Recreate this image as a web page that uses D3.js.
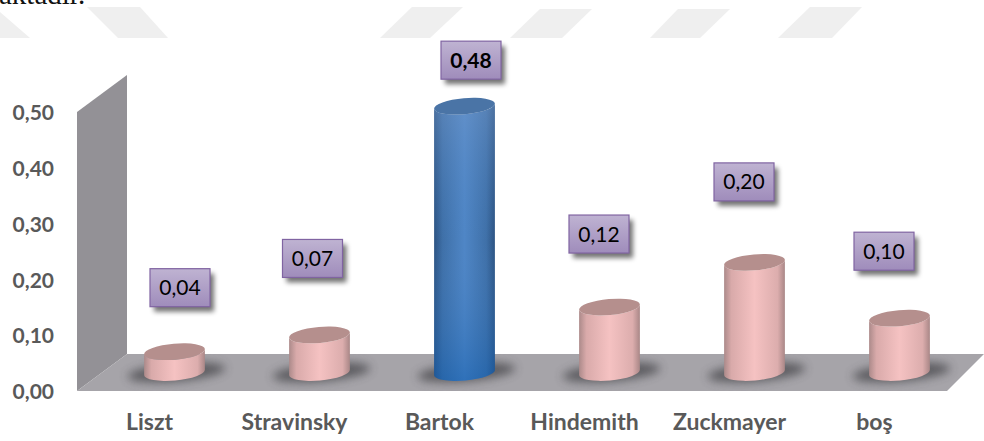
<!DOCTYPE html>
<html>
<head>
<meta charset="utf-8">
<script src="https://cdn.jsdelivr.net/npm/d3@7"></script>
<style>
  html, body { margin: 0; padding: 0; background: #fff; }
  svg { display: block; }
  text { font-family: Lato, sans-serif; }
</style>
</head>
<body>
<svg id="chart"></svg>
<script>
const categories = ['Liszt', 'Stravinsky', 'Bartok', 'Hindemith', 'Zuckmayer', 'boş']
const values = [0.04, 0.07, 0.48, 0.12, 0.20, 0.10]
const valueLabels = ['0,04', '0,07', '0,48', '0,12', '0,20', '0,10']
const yTicks = [0, 0.1, 0.2, 0.3, 0.4, 0.5]
const highlighted = 'Bartok'

// the labels were dragged by hand in the original, so each has its own offset from the bar top
const labelDx = [5.5, -7, 6.5, -10.5, -10.5, -15.5]
const labelDy = [-64, -76.5, -46, -73, -80.5, -67]

// faint watermark stripes behind the chart, top of the page
const stripes = [
    [[0, 12], [30, 38], [0, 38]],
    [[87, 7], [140, 7], [168, 38], [118, 38]],
    [[380, 38], [412, 7], [463, 7], [430, 38]],
    [[510, 38], [540, 9], [592, 9], [562, 38]],
    [[650, 38], [678, 9], [730, 9], [700, 38]],
    [[778, 38], [810, 7], [862, 7], [832, 38]]
]

const svgWidth = 984
const svgHeight = 441

// chart box: front plane and the depth of the 3d floor
const frontLeft = 77
const frontRight = 947
const frontBottom = 391
const frontTop = 112
const depthX = 50
const depthY = 37

const cylWidth = 61
const cylRy = 8
const tilt = -5
const boxWidth = 60
const boxHeight = 38

const svg = d3.select('#chart')
    .attr('width', svgWidth)
    .attr('height', svgHeight)

const x = d3.scaleBand().domain(categories).range([frontLeft, frontRight])
const y = d3.scaleLinear().domain([0, 0.5]).range([frontBottom, frontTop])

const defs = svg.append('defs')

function hGradient(id, stops, vertical) {
    const g = defs.append('linearGradient').attr('id', id)
        .attr('x1', 0).attr('y1', 0)
        .attr('x2', vertical ? 0 : 1).attr('y2', vertical ? 1 : 0)
    stops.forEach(s => {
        g.append('stop').attr('offset', s[0]).attr('stop-color', s[1]).attr('stop-opacity', s[2] === undefined ? 1 : s[2])
    })
}

hGradient('pinkSide', [[0, '#ac8a8a'], [0.12, '#d9aaaa'], [0.5, '#f5c2c2'], [0.88, '#dcadad'], [1, '#a98787']])
hGradient('blueSide', [[0, '#2c5382'], [0.14, '#3f70a8'], [0.5, '#4f86c6'], [0.86, '#3f70a8'], [1, '#2c5382']])
hGradient('blueShade', [[0, '#7fa0cf', 0.4], [0.5, '#4f86c6', 0], [1, '#0f5cad', 0.5]], true)
hGradient('boxFill', [[0, '#bfb3d2'], [1, '#9f8cbb']], true)

defs.append('filter').attr('id', 'blurBox').attr('x', '-30%').attr('y', '-30%').attr('width', '160%').attr('height', '160%')
    .append('feGaussianBlur').attr('stdDeviation', 2.5)
defs.append('filter').attr('id', 'blurFloor').attr('x', '-30%').attr('y', '-60%').attr('width', '160%').attr('height', '220%')
    .append('feGaussianBlur').attr('stdDeviation', 5)
defs.append('clipPath').attr('id', 'floorClip')
    .append('path').attr('d', floorPath())

function floorPath() {
    return `M${frontLeft},${y(0)} L${frontLeft + depthX},${y(0) - depthY} L${frontRight + depthX - 13},${y(0) - depthY} L${frontRight},${y(0)} Z`
}

// watermark and the cut off line of text above the chart
svg.append('g').selectAll('path')
    .data(stripes)
    .join('path')
    .attr('d', d => 'M' + d.join('L') + 'Z')
    .attr('fill', '#efefef')

svg.append('text')
    .attr('x', -1)
    .attr('y', 4)
    .attr('font-size', 29)
    .attr('fill', '#111')
    .style('font-family', '"Liberation Serif", serif')
    .text('aktadır.')

// wall and floor
svg.append('path')
    .attr('d', `M${frontLeft},${y(0)} L${frontLeft},${y(0.5)} L${frontLeft + depthX},${y(0.5) - depthY} L${frontLeft + depthX},${y(0) - depthY} Z`)
    .attr('fill', '#939196')

svg.append('path')
    .attr('d', floorPath())
    .attr('fill', '#a6a4a9')

// axes
const yAxis = d3.axisLeft(y)
    .tickValues(yTicks)
    .tickSize(0)
    .tickPadding(23)
    .tickFormat(d => d3.format('.2f')(d).replace('.', ','))

const xAxis = d3.axisBottom(x)
    .tickSize(0)
    .tickPadding(23)

svg.append('g')
    .attr('transform', `translate(${frontLeft},1)`)
    .call(yAxis)
    .call(g => g.select('.domain').remove())
    .call(g => g.selectAll('text')
        .style('font-family', 'Lato, sans-serif')
        .attr('font-size', 21)
        .attr('font-weight', 700)
        .attr('fill', '#595959'))

svg.append('g')
    .attr('transform', `translate(0,${frontBottom})`)
    .call(xAxis)
    .call(g => g.select('.domain').remove())
    .call(g => g.selectAll('text')
        .style('font-family', 'Lato, sans-serif')
        .attr('font-size', 23)
        .attr('font-weight', 700)
        .attr('fill', '#595959'))

// cylinders stand in the middle of the floor depth
const rows = categories.map((name, i) => ({
    name,
    value: values[i],
    label: valueLabels[i],
    cx: x(name) + x.bandwidth() / 2 + depthX / 2,
    top: y(values[i]) - depthY / 2 + 1.5,
    base: y(0) - depthY / 2,
    dx: labelDx[i],
    dy: labelDy[i]
}))

function sidePath(d) {
    const rx = cylWidth / 2
    const ex = rx * Math.cos(tilt * Math.PI / 180)
    const ey = rx * Math.sin(tilt * Math.PI / 180)
    return `M${d.cx - ex},${d.top - ey} L${d.cx - ex},${d.base - ey}`
        + ` A${rx},${cylRy} ${tilt} 0 0 ${d.cx + ex},${d.base + ey}`
        + ` L${d.cx + ex},${d.top + ey}`
        + ` A${rx},${cylRy} ${tilt} 0 1 ${d.cx - ex},${d.top - ey} Z`
}

svg.append('g')
    .attr('clip-path', 'url(#floorClip)')
    .selectAll('ellipse')
    .data(rows)
    .join('ellipse')
    .attr('cx', d => d.cx + 2)
    .attr('cy', d => d.base)
    .attr('rx', cylWidth * 0.8)
    .attr('ry', 9)
    .attr('transform', d => `rotate(${tilt} ${d.cx} ${d.base})`)
    .attr('fill', '#4a484e')
    .attr('opacity', 0.8)
    .attr('filter', 'url(#blurFloor)')

const cyl = svg.append('g').selectAll('g')
    .data(rows)
    .join('g')

cyl.append('path')
    .attr('d', sidePath)
    .attr('fill', d => d.name === highlighted ? 'url(#blueSide)' : 'url(#pinkSide)')

cyl.filter(d => d.name === highlighted)
    .append('path')
    .attr('d', sidePath)
    .attr('fill', 'url(#blueShade)')

cyl.append('ellipse')
    .attr('cx', d => d.cx)
    .attr('cy', d => d.top)
    .attr('rx', cylWidth / 2)
    .attr('ry', cylRy)
    .attr('transform', d => `rotate(${tilt} ${d.cx} ${d.top})`)
    .attr('fill', d => d.name === highlighted ? '#4a74a6' : '#b58f8d')

// value boxes
const box = svg.append('g').selectAll('g')
    .data(rows)
    .join('g')
    .attr('transform', d => `translate(${d.cx + d.dx},${d.top + d.dy})`)

box.append('rect')
    .attr('x', -boxWidth / 2 + 4)
    .attr('y', -boxHeight / 2 + 5)
    .attr('width', boxWidth)
    .attr('height', boxHeight)
    .attr('fill', '#000')
    .attr('opacity', 0.55)
    .attr('filter', 'url(#blurBox)')

box.append('rect')
    .attr('x', -boxWidth / 2)
    .attr('y', -boxHeight / 2)
    .attr('width', boxWidth)
    .attr('height', boxHeight)
    .attr('fill', 'url(#boxFill)')
    .attr('stroke', '#8064a2')
    .attr('stroke-width', 1.2)

box.append('text')
    .attr('text-anchor', 'middle')
    .attr('dy', '0.36em')
    .attr('font-size', 21)
    .attr('font-weight', d => d.name === highlighted ? 700 : 400)
    .attr('fill', '#000')
    .text(d => d.label)
</script>
</body>
</html>
